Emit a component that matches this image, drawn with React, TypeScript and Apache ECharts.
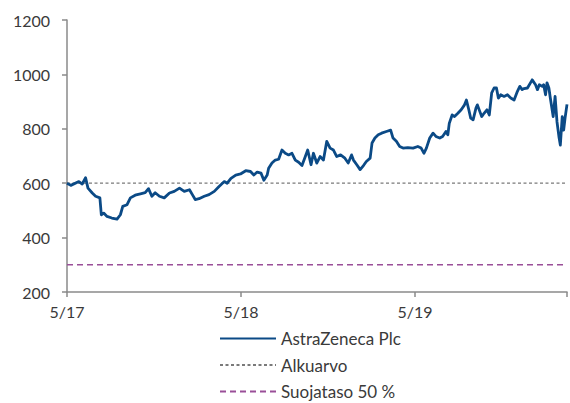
import React, { useEffect, useRef } from "react";
import * as echarts from "echarts";

const seriesName = "AstraZeneca Plc";
const baseName = "Alkuarvo";
const barrierName = "Suojataso 50 %";

const dates = [
  "2017-05-01","2017-05-09","2017-05-26","2017-06-02","2017-06-09","2017-06-14","2017-06-23","2017-06-30",
  "2017-07-09","2017-07-12","2017-07-17","2017-07-24","2017-08-03","2017-08-14","2017-08-21","2017-08-26",
  "2017-09-04","2017-09-11","2017-09-21","2017-10-02","2017-10-12","2017-10-19","2017-10-26","2017-11-02",
  "2017-11-11","2017-11-21","2017-12-02","2017-12-12","2017-12-23","2018-01-02","2018-01-13","2018-01-19",
  "2018-01-25","2018-02-02","2018-02-13","2018-02-23","2018-03-06","2018-03-16","2018-03-27","2018-04-02",
  "2018-04-10","2018-04-20","2018-04-30","2018-05-11","2018-05-21","2018-05-28","2018-06-04","2018-06-12",
  "2018-06-18","2018-06-25","2018-06-28","2018-07-05","2018-07-12","2018-07-19","2018-07-26","2018-08-02",
  "2018-08-09","2018-08-16","2018-08-23","2018-08-30","2018-09-06","2018-09-13","2018-09-18","2018-09-25",
  "2018-09-30","2018-10-07","2018-10-14","2018-10-21","2018-10-28","2018-11-04","2018-11-11","2018-11-18",
  "2018-11-26","2018-12-05","2018-12-12","2018-12-19","2018-12-23","2018-12-30","2019-01-06","2019-01-13",
  "2019-01-19","2019-01-27","2019-01-31","2019-02-06","2019-02-13","2019-02-20","2019-03-02","2019-03-11",
  "2019-03-16","2019-03-23","2019-03-30","2019-04-06","2019-04-16","2019-04-27","2019-05-07","2019-05-14",
  "2019-05-20","2019-05-25","2019-06-01","2019-06-08","2019-06-14","2019-06-22","2019-06-28","2019-07-05",
  "2019-07-09","2019-07-12","2019-07-18","2019-07-23","2019-07-30","2019-08-06","2019-08-13","2019-08-17",
  "2019-08-22","2019-08-26","2019-08-31","2019-09-06","2019-09-09","2019-09-14","2019-09-18","2019-09-23",
  "2019-09-29","2019-10-04","2019-10-09","2019-10-14","2019-10-19","2019-10-23","2019-10-28","2019-11-04",
  "2019-11-11","2019-11-18","2019-11-25","2019-12-02","2019-12-07","2019-12-12","2019-12-16","2019-12-23",
  "2020-01-02","2020-01-09","2020-01-13","2020-01-17","2020-01-23","2020-01-26","2020-01-30","2020-02-02",
  "2020-02-06","2020-02-09","2020-02-15","2020-02-19","2020-02-23","2020-02-27","2020-03-01","2020-03-05",
  "2020-03-08","2020-03-11","2020-03-15"
];

const values = [
  600,592,606,597,620,582,564,552,
  546,484,490,478,472,468,484,515,
  521,546,556,561,565,580,552,565,
  552,546,564,570,582,570,576,558,
  540,543,552,558,570,588,606,600,
  618,630,634,646,643,630,641,637,
  611,630,655,674,685,688,722,710,
  704,710,685,677,665,698,722,668,
  710,674,698,685,754,729,722,698,
  704,692,674,704,685,668,650,665,
  680,692,748,766,778,784,790,795,
  766,754,735,729,731,729,735,729,
  710,729,766,784,772,766,772,790,
  778,820,851,845,857,870,888,906,
  870,839,833,876,888,864,845,857,
  870,851,932,950,950,913,925,919,
  925,913,906,938,956,944,948,950,
  980,962,944,962,956,962,925,969,
  950,913,845,919,826,772,740,845,
  795,840,890
];

const startDate = "2017-05-01";
const endDate = "2020-03-15";
const baseValue = 600;
const barrierValue = 300;
const xTickLabels = ["5/17", "5/18", "5/19"];
const yTicks = [200, 400, 600, 800, 1000, 1200];

function dayOffset(s: string): number {
  const [y, m, d] = s.split("-").map(Number);
  const [y0, m0, d0] = startDate.split("-").map(Number);
  return Math.round((Date.UTC(y, m - 1, d) - Date.UTC(y0, m0 - 1, d0)) / 86400000);
}

const FONT = "Lato, 'Open Sans', sans-serif";

export default function App() {
  const ref = useRef<HTMLDivElement>(null);
  useEffect(() => {
    document.body.style.margin = "0";
    if (!ref.current) return;
    const chart = echarts.init(ref.current, undefined, { renderer: "svg" });
    const endX = dayOffset(endDate);
    const lineData = dates.map((d, i) => [dayOffset(d), values[i]]);
    chart.setOption({
      animation: false,
      grid: { left: 67, right: 0, top: 20, bottom: 111, containLabel: false },
      legend: {
        orient: "vertical",
        left: 219,
        top: 330,
        height: 120,
        itemWidth: 56,
        itemHeight: 14,
        itemGap: 9.5,
        padding: 0,
        itemStyle: { opacity: 0 },
        data: [seriesName, baseName, barrierName],
        textStyle: { fontFamily: FONT, fontSize: 17, color: "#3a3a3a", lineHeight: 17 },
      },
      xAxis: {
        type: "value",
        min: 0,
        max: endX,
        interval: 365,
        axisLine: { show: true, lineStyle: { color: "#8a8a8a", width: 1.5 } },
        axisTick: { show: true, length: 5, lineStyle: { color: "#8a8a8a", width: 1.5 } },
        splitLine: { show: false },
        axisLabel: {
          fontFamily: FONT,
          fontSize: 16,
          color: "#3a3a3a",
          margin: 11,
          formatter: (v: number) => {
            const idx = Math.round(v / 365);
            return v % 365 === 0 && idx < xTickLabels.length ? xTickLabels[idx] : "";
          },
        },
      },
      yAxis: {
        type: "value",
        min: yTicks[0],
        max: yTicks[yTicks.length - 1],
        interval: 200,
        axisLine: { show: true, lineStyle: { color: "#8a8a8a", width: 1.5 } },
        axisTick: { show: true, length: 5, lineStyle: { color: "#8a8a8a", width: 1.5 } },
        splitLine: { show: false },
        axisLabel: {
          fontFamily: FONT,
          fontSize: 16,
          color: "#3a3a3a",
          margin: 17,
          formatter: (v: number) => String(v),
        },
      },
      series: [
        {
          name: seriesName,
          type: "line",
          data: lineData,
          symbol: "none",
          z: 5,
          lineStyle: { color: "#0b4a86", width: 2.8, join: "round" },
          itemStyle: { color: "#0b4a86" },
        },
        {
          name: baseName,
          type: "line",
          data: [[0, baseValue], [endX, baseValue]],
          symbol: "none",
          z: 3,
          lineStyle: { color: "#7a7a7a", width: 1.3, type: [3, 2.5] },
          itemStyle: { color: "#7a7a7a" },
        },
        {
          name: barrierName,
          type: "line",
          data: [[0, barrierValue], [endX, barrierValue]],
          symbol: "none",
          z: 3,
          lineStyle: { color: "#9a4f98", width: 1.4, type: [6, 4] },
          itemStyle: { color: "#9a4f98" },
        },
      ],
    });
    return () => chart.dispose();
  }, []);
  return <div ref={ref} style={{ width: 570, height: 403 }} />;
}
